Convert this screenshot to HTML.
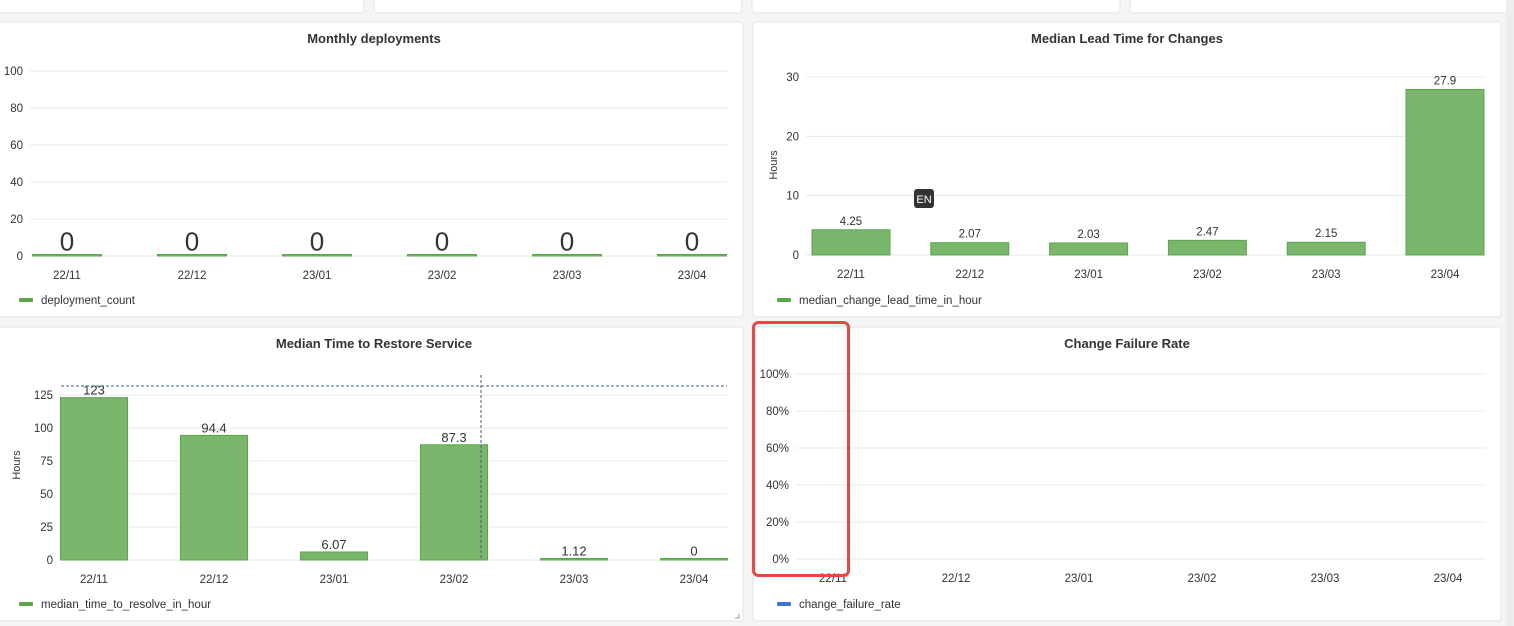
<!DOCTYPE html>
<html><head><meta charset="utf-8"><style>
html,body{margin:0;padding:0;background:#f4f5f5;width:1514px;height:626px;overflow:hidden;font-family:"Liberation Sans",sans-serif}
svg text{font-family:"Liberation Sans",sans-serif}
</style></head><body>
<svg id="s" width="1514" height="626" xmlns="http://www.w3.org/2000/svg">
<rect x="-5" y="-10" width="369" height="23" rx="3" fill="#fff" stroke="#e3e5e6"/>
<rect x="374" y="-10" width="368" height="23" rx="3" fill="#fff" stroke="#e3e5e6"/>
<rect x="752" y="-10" width="368" height="23" rx="3" fill="#fff" stroke="#e3e5e6"/>
<rect x="1130" y="-10" width="380" height="23" rx="3" fill="#fff" stroke="#e3e5e6"/>
<rect x="1506" y="0" width="8" height="626" fill="#eceeee"/>
</svg>
<script>
const months = ["22/11","22/12","23/01","23/02","23/03","23/04"];
const deployCounts = [0,0,0,0,0,0];
const deployTicks = [0,20,40,60,80,100];
const leadTimes = [4.25,2.07,2.03,2.47,2.15,27.9];
const leadTicks = [0,10,20,30];
const restoreTimes = [123,94.4,6.07,87.3,1.12,0];
const restoreLabels = ["123","94.4","6.07","87.3","1.12","0"];
const restoreTicks = [0,25,50,75,100,125];
const failureRates = [0,0,0,0,0,0];
const failureTicks = [0,20,40,60,80,100];

const NS="http://www.w3.org/2000/svg";
const svg=document.getElementById('s');
function mk(tag,attrs,parent,text){const e=document.createElementNS(NS,tag);for(const k in attrs)e.setAttribute(k,attrs[k]);if(text!==undefined)e.textContent=text;(parent||svg).appendChild(e);return e;}

function chart(cfg){
  const g=mk('g',{});
  
  
  const p=mk('rect',{x:cfg.px,y:cfg.py,width:cfg.pw,height:cfg.ph,rx:3,fill:'#fff',stroke:'#e3e5e6'},g);
  
  
  const t=mk('text',{x:cfg.px+cfg.pw/2+(cfg.titleDx||0),y:cfg.py+21,'text-anchor':'middle','font-size':13,'font-weight':'bold',fill:'#333'},g,cfg.title);
  
  
  const max=cfg.ticks[cfg.ticks.length-1];
  const yS=v=>cfg.y0-(v/max)*(cfg.y0-cfg.yTop);
  const xC=i=>cfg.c0+cfg.band*i;
  cfg.ticks.forEach(v=>{
    const l=mk('line',{x1:cfg.x0,x2:cfg.x1,y1:yS(v),y2:yS(v),stroke:'#e8e8e8'},g);
    
    
    const tx=mk('text',{x:cfg.x0-7,y:yS(v)+4,'text-anchor':'end','font-size':11.5,fill:'#333'},g,v+(cfg.pct?'%':''));
    
    
  });
  cfg.cats.forEach((c,i)=>{
    const tx=mk('text',{x:xC(i),y:cfg.y0+23,'text-anchor':'middle','font-size':11.5,fill:'#333'},g,c);
    
    
  });
  if(cfg.vals){
    const bw=cfg.bw;
    cfg.vals.forEach((v,i)=>{
      const y=yS(v);const h=Math.max(cfg.y0-y,1.5);
      const r=mk('rect',{x:xC(i)-bw/2,y:cfg.y0-h,width:bw,height:h,fill:'#7ab76d',stroke:'#5aa64b','stroke-width':1},g);
      
      
      const lab=cfg.labels?cfg.labels[i]:String(v);
      const tx=mk('text',{x:xC(i),y:cfg.y0-h-(cfg.labelGap||4),'text-anchor':'middle','font-size':cfg.labelSize,fill:'#333'},g,lab);
      
      
    });
  }
  if(cfg.yTitle){
    const tx=mk('text',{x:cfg.yTitleX,y:cfg.yTitleY,'text-anchor':'middle','font-size':11,fill:'#333',transform:`rotate(-90 ${cfg.yTitleX} ${cfg.yTitleY})`},g,cfg.yTitle);
    
    
  }
  const lg=mk('g',{},g);
  
  
  mk('rect',{x:cfg.px+cfg.legDx,y:cfg.legY-2,width:14,height:4,rx:1,fill:cfg.legColor},lg);
  mk('text',{x:cfg.px+cfg.legDx+22,y:cfg.legY+4,'font-size':11.5,fill:'#333'},lg,cfg.legend);
  return {g,yS,xC};
}

chart({name:'monthly-deployments-chart',px:-5,py:22,pw:748,ph:295,title:'Monthly deployments',titleDx:5,ticks:deployTicks,cats:months,vals:deployCounts,x0:30,x1:727,c0:67,band:125,bw:69,y0:256,yTop:71,labelSize:26,labelGap:4,legend:'deployment_count',legDx:24,legY:300,legColor:'#5aa64b'});

chart({name:'lead-time-chart',px:753,py:22,pw:748,ph:295,title:'Median Lead Time for Changes',ticks:leadTicks,cats:months,vals:leadTimes,x0:806,x1:1486,c0:851,band:118.8,bw:78,y0:255,yTop:77,labelSize:11.5,labelGap:5,yTitle:'Hours',yTitleX:777,yTitleY:165,legend:'median_change_lead_time_in_hour',legDx:24,legY:300,legColor:'#5aa64b'});
const en=mk('g',{});


mk('rect',{x:914,y:189,width:20,height:19,rx:3,fill:'#333'},en);
mk('text',{x:924,y:203,'text-anchor':'middle','font-size':11,fill:'#fff'},en,'EN');

chart({name:'restore-time-chart',px:-5,py:327,pw:748,ph:294,title:'Median Time to Restore Service',titleDx:5,ticks:restoreTicks,cats:months,vals:restoreTimes,labels:restoreLabels,x0:60,x1:727,c0:94,band:120,bw:67,y0:560,yTop:395,labelSize:13,labelGap:3,yTitle:'Hours',yTitleX:20,yTitleY:465,legend:'median_time_to_resolve_in_hour',legDx:24,legY:604,legColor:'#5aa64b'});
const hl=mk('line',{x1:61,x2:727,y1:386,y2:386,stroke:'#3f5f7a','stroke-dasharray':'3,2'});


const vl=mk('line',{x1:481,x2:481,y1:375,y2:560,stroke:'#3f5f7a','stroke-dasharray':'3,2'});


const rh=mk('path',{d:'M735 618 L739 618 L739 614',stroke:'#999',fill:'none'});



chart({name:'change-failure-rate-chart',px:753,py:327,pw:748,ph:294,title:'Change Failure Rate',ticks:failureTicks,pct:true,cats:months,x0:796,x1:1486,c0:833,band:123,y0:559,yTop:374,legend:'change_failure_rate',legDx:24,legY:604,legColor:'#3d71d9'});
const hi=mk('rect',{x:753.5,y:322.5,width:95,height:253,rx:5,fill:'none',stroke:'#ef4444','stroke-width':3});


</script>
</body></html>
